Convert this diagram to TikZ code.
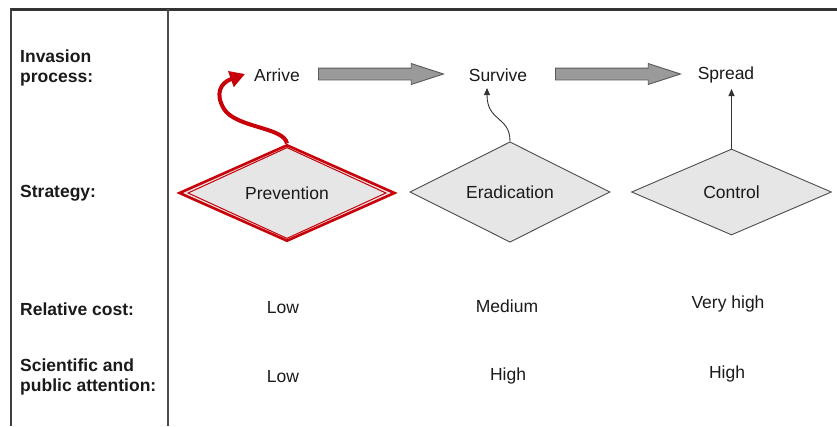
\documentclass[tikz,border=0pt]{standalone}
\usepackage{fontspec}
\setmainfont{Liberation Sans}
\usetikzlibrary{shapes.geometric,shapes.arrows,arrows.meta}
\definecolor{redline}{HTML}{C8000A}
\definecolor{dfill}{HTML}{E6E6E6}
\definecolor{afill}{HTML}{9A9A9A}
\definecolor{ink}{HTML}{1A1A1A}
\begin{document}
\begin{tikzpicture}[x=1pt,y=-1pt,
  txt/.style={font=\fontsize{17.5}{20}\selectfont, text=ink, inner sep=0pt},
  lbl/.style={font=\fontsize{17.5}{20}\selectfont\bfseries, text=ink, inner sep=0pt, anchor=west, align=left},
  diam/.style={diamond, minimum width=200pt, minimum height=86pt, inner sep=0pt, fill=dfill, draw=black!70, line width=0.9pt, text=ink, font=\fontsize{17.5}{20}\selectfont},
  reddiam/.style={diam, minimum width=216pt, minimum height=85pt, draw=redline, line width=2.6pt},
  innerred/.style={draw=redline, line width=1pt, line join=miter},
  blockarrow/.style={single arrow, draw=black!65, fill=afill, line width=0.9pt, minimum height=125pt, inner sep=5.5pt, single arrow head extend=4.5pt, single arrow tip angle=36, anchor=tail},
  thinarrow/.style={draw=black!80, line width=0.9pt, -{Triangle[length=7pt,width=6pt]}},
  redarrow/.style={draw=redline, line width=4pt, -{Triangle[length=15pt,width=16pt]}}
]
\fill[white] (0,0) rectangle (837,426);
\useasboundingbox (0,0) rectangle (837,426);
% frame lines
\draw[line width=3pt, black!80] (10,9) -- (837,9);
\draw[line width=1.4pt, black!75] (11,9) -- (11,426);
\draw[line width=1.2pt, black!70] (168,9) -- (168,426);

% row labels
\node[lbl] (l1) at (20,67.5) {Invasion\\process:};
\node[lbl] (l2) at (20,193) {Strategy:};
\node[lbl] (l3) at (20,309) {Relative cost:};
\node[lbl] (l4) at (20,377) {Scientific and\\public attention:};

% invasion process
\node[txt] (arrive) at (277,75) {Arrive};
\node[txt] (survive) at (498,75) {Survive};
\node[txt] (spread) at (726,75) {Spread};
\node[blockarrow] (ba1) at (318,74) {};
\node[blockarrow] (ba2) at (555,74) {};

% strategies
\node[reddiam] (prev) at (287,193) {Prevention};
\draw[innerred] ([yshift=-4.2pt]prev.north) -- ([xshift=-10.4pt]prev.east) -- ([yshift=4.2pt]prev.south) -- ([xshift=10.4pt]prev.west) -- cycle;
\node[diam] (erad) at (510,192) {Eradication};
\node[diam] (ctrl) at (731.5,192) {Control};

% connectors
\coordinate (ptip) at (245,74);
\coordinate (etip) at (487,88);
\coordinate (ctip) at (731.5,89);
\draw[redarrow] (prev.north) .. controls (284,127) and (236,128) .. (224,109) .. controls (215,94) and (220,83) .. (ptip);
\draw[thinarrow] (erad.north) .. controls (510,116) and (487,122) .. (etip);
\draw[thinarrow] (ctrl.north) -- (ctip);

% relative cost
\node[txt] (c1) at (283,308) {Low};
\node[txt] (c2) at (507,306) {Medium};
\node[txt] (c3) at (728,304) {Very high};

% attention
\node[txt] (a1) at (283,377) {Low};
\node[txt] (a2) at (508,376) {High};
\node[txt] (a3) at (727,374) {High};
\end{tikzpicture}
\end{document}
